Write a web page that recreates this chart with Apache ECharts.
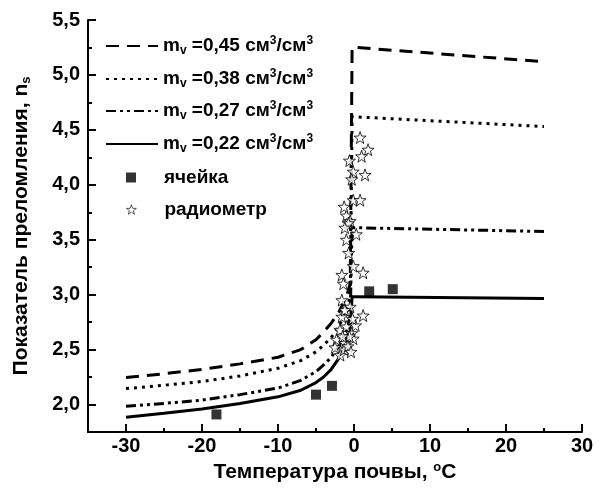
<!DOCTYPE html>
<html>
<head>
<meta charset="utf-8">
<script src="https://cdn.jsdelivr.net/npm/echarts@6/dist/echarts.min.js"></script>
<style>html,body{margin:0;padding:0;background:#fff}#c{width:603px;height:497px}</style>
</head>
<body>
<div id="c"></div>
<script>
// ---- data ----
var moisture = ['0,45', '0,38', '0,27', '0,22'];
var curve045 = [[-30,2.245],[-25,2.28],[-20,2.32],[-15,2.37],[-10,2.43],[-7,2.5],[-5,2.59],[-4,2.66],[-3,2.74],[-2,2.84],[-1,2.98],[-0.5,3.1],[-0.25,5.25],[0.3,5.25],[25,5.12]];
var curve038 = [[-30,2.145],[-25,2.175],[-20,2.21],[-15,2.26],[-10,2.33],[-7,2.4],[-5,2.48],[-4,2.54],[-3,2.61],[-2,2.71],[-1,2.86],[-0.5,2.98],[-0.25,4.62],[25,4.53]];
var curve027 = [[-30,1.985],[-25,2.01],[-20,2.04],[-15,2.09],[-10,2.15],[-7,2.22],[-5,2.3],[-4,2.36],[-3,2.43],[-2,2.53],[-1,2.68],[-0.5,2.8],[-0.25,3.61],[25,3.575]];
var curve022 = [[-30,1.884],[-25,1.92],[-20,1.96],[-15,2.01],[-10,2.07],[-7,2.13],[-5,2.2],[-4,2.25],[-3,2.32],[-2,2.42],[-1,2.58],[-0.5,2.72],[-0.25,2.98],[0.3,2.98],[25,2.965]];
var cellPoints = [[-18.1,1.91],[-5.0,2.09],[-2.9,2.17],[2.0,3.03],[5.1,3.05]];
var radiometerPoints = [[0.8,4.43],[1.85,4.32],[1.0,4.26],[-0.1,4.12],[1.45,4.09],[-0.3,4.05],[-0.1,3.86],[0.8,3.86],[-1.0,3.72],[-0.5,3.67],[-0.75,3.65],[-1.2,3.61],[-1.0,3.5],[-0.1,3.26],[1.2,3.2],[-1.6,3.18],[-1.4,3.1],[-1.6,2.95],[-0.5,2.89],[1.2,2.81],[-1.6,2.8],[-1.85,2.68],[-1.0,2.71],[-0.3,2.65],[-2.3,2.59],[-1.2,2.56],[-0.1,2.6],[-0.6,2.62],[-2.5,2.52],[-1.8,2.45],[-1.3,2.5],[-0.8,2.53],[-0.4,2.48],[-1.5,2.62],[0.2,2.72],[-0.2,2.78],[-1.2,2.86],[-0.7,3.38],[0.3,3.55],[-1.3,3.8],[-0.6,4.22]];
var xMajorTicks = [-30,-20,-10,0,10,20,30];
var xMinorTicks = [-25,-15,-5,5,15,25];
var yMajorTicks = [2.0,2.5,3.0,3.5,4.0,4.5,5.0,5.5];
var yMinorTicks = [2.25,2.75,3.25,3.75,4.25,4.75,5.25];
var xTitle = 'Температура почвы, {sup|o}C';
var yTitle = 'Показатель преломления, n{sub|s}';
var cellName = 'ячейка';
var radName = 'радиометр';

var FONT = 'Liberation Sans, Arial, sans-serif';
var lineNames = moisture.map(function(m){ return 'm_v=' + m; });
function legendFmt(name) {
  if (name.indexOf('m_v=') === 0) {
    return '{t|m}{sub|v}{t| =' + name.slice(4) + ' см}{sup|3}{t|/см}{sup|3}';
  }
  return '{sp|}{t|' + name + '}';
}
var richLegend = {
  t: {fontFamily: FONT, fontSize: 19, fontWeight: 'bold', color: '#000'},
  sp: {width: 23},
  sub: {fontFamily: FONT, fontSize: 12, fontWeight: 'bold', color: '#000', verticalAlign: 'bottom', padding: [10,0,0,0]},
  sup: {fontFamily: FONT, fontSize: 12, fontWeight: 'bold', color: '#000', verticalAlign: 'top', padding: [0,0,8,0]}
};
var starPath = 'path://M0,-10 L2.35,-3.24 L9.51,-3.09 L3.8,1.24 L5.88,8.09 L0,4 L-5.88,8.09 L-3.8,1.24 L-9.51,-3.09 L-2.35,-3.24 Z';
var dashTypes = [[13,8],[3,5],[10,4,3,4,3,4],'solid'];
var curves = [curve045, curve038, curve027, curve022];
var series = curves.map(function(c, i){
  return {
    name: lineNames[i], type: 'line', data: c, symbol: 'none', smooth: false,
    lineStyle: {color: '#000', width: 3, type: dashTypes[i]},
    itemStyle: {color: '#000'}, z: 2
  };
});
series.push({name: cellName, type: 'scatter', data: cellPoints, symbol: 'rect', symbolSize: 10,
  itemStyle: {color: '#000'}, z: 4});
series.push({name: radName, type: 'scatter', data: radiometerPoints, symbol: starPath, symbolSize: 12,
  itemStyle: {color: '#fff', borderColor: '#000', borderWidth: 1}, z: 3});

var legendRows = [47, 80, 112, 145];
var legends = lineNames.map(function(n, i){
  return {data: [n], left: 105, top: legendRows[i] - 12, padding: 0, itemWidth: 52, itemHeight: 14,
    itemStyle: {opacity: 0}, formatter: legendFmt, textStyle: {rich: richLegend}, selectedMode: false};
});
legends.push({data: [cellName], left: 126, top: 178 - 10, padding: 0, itemWidth: 10, itemHeight: 10,
  formatter: legendFmt, textStyle: {rich: richLegend}, selectedMode: false});
legends.push({data: [radName], left: 126, top: 210 - 10, padding: 0, itemWidth: 10, itemHeight: 10,
  itemStyle: {color: '#fff', borderColor: '#000', borderWidth: 0.8},
  formatter: legendFmt, textStyle: {rich: richLegend}, selectedMode: false});

var chart = echarts.init(document.getElementById('c'), null, {renderer: 'canvas'});
var fmt = function(v){ return v.toFixed(1).replace('.', ','); };
chart.setOption({
  animation: false,
  backgroundColor: '#fff',
  grid: {left: 88, right: 21, top: 20, bottom: 65},
  legend: legends,
  xAxis: [{
    type: 'value', min: -35, max: 30,
    name: xTitle, nameLocation: 'middle', nameGap: 23,
    nameTextStyle: {fontFamily: FONT, fontSize: 21, fontWeight: 'bold', color: '#000',
      rich: {sup: {fontFamily: FONT, fontSize: 13, fontWeight: 'bold', color: '#000', verticalAlign: 'top', padding: [0,0,10,0]}}},
    axisLine: {show: true, onZero: false, lineStyle: {color: '#000', width: 2}},
    axisTick: {show: true, inside: true, length: 8, lineStyle: {color: '#000', width: 2}, customValues: xMajorTicks},
    axisLabel: {show: true, fontFamily: FONT, fontSize: 20, fontWeight: 'bold', color: '#000', margin: 4, customValues: xMajorTicks,
      formatter: function(v){ return String(v); }},
    splitLine: {show: false}
  }, {
    type: 'value', min: -35, max: 30, position: 'bottom',
    axisLine: {show: false, onZero: false},
    axisTick: {show: true, inside: true, length: 4, lineStyle: {color: '#000', width: 2}, customValues: xMinorTicks},
    axisLabel: {show: false}, splitLine: {show: false}
  }],
  yAxis: [{
    type: 'value', min: 1.75, max: 5.5,
    name: yTitle, nameLocation: 'middle', nameGap: 55,
    nameTextStyle: {fontFamily: FONT, fontSize: 21, fontWeight: 'bold', color: '#000',
      rich: {sub: {fontFamily: FONT, fontSize: 13, fontWeight: 'bold', color: '#000', verticalAlign: 'bottom', padding: [11,0,0,0]}}},
    axisLine: {show: true, onZero: false, lineStyle: {color: '#000', width: 2}},
    axisTick: {show: true, inside: true, length: 8, lineStyle: {color: '#000', width: 2}, customValues: yMajorTicks},
    axisLabel: {show: true, fontFamily: FONT, fontSize: 20, fontWeight: 'bold', color: '#000', margin: 8, customValues: yMajorTicks, formatter: fmt},
    splitLine: {show: false}
  }, {
    type: 'value', min: 1.75, max: 5.5, position: 'left',
    axisLine: {show: false, onZero: false},
    axisTick: {show: true, inside: true, length: 4, lineStyle: {color: '#000', width: 2}, customValues: yMinorTicks},
    axisLabel: {show: false}, splitLine: {show: false}
  }],
  series: series
});
</script>
</body>
</html>
